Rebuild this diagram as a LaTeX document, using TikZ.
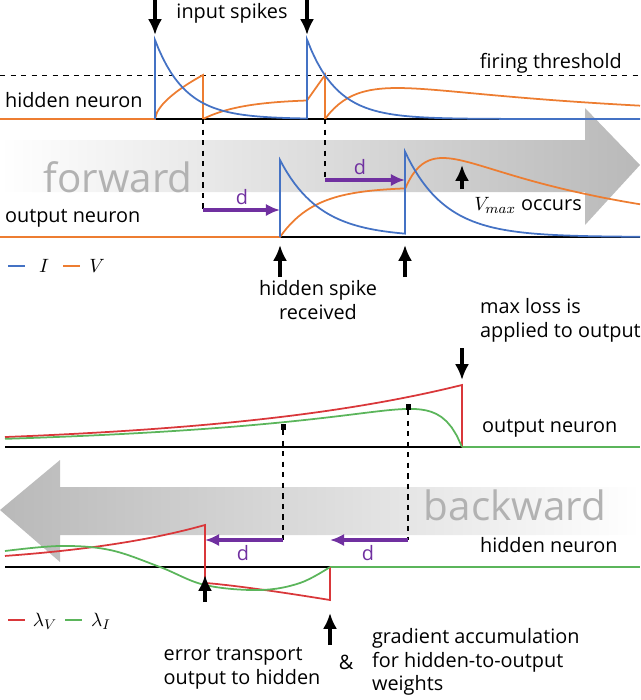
\documentclass[tikz,border=0pt]{standalone}
\usepackage{fontspec}
\setmainfont{Open Sans}
\usetikzlibrary{arrows.meta}
\begin{document}
\definecolor{cI}{RGB}{68,114,196}
\definecolor{cV}{RGB}{237,125,49}
\definecolor{cLV}{RGB}{217,55,58}
\definecolor{cLI}{RGB}{91,181,91}
\definecolor{cD}{RGB}{112,48,160}
\begin{tikzpicture}[x=0.02cm,y=-0.02cm,
  lbl/.style={font=\fontsize{11.3}{13.5}\selectfont,inner sep=1pt},
  big/.style={font=\fontsize{23}{25}\selectfont,text=gray!60},
  ptr/.style={-{Latex[length=9pt,width=8pt]},line width=1.8pt},
  dly/.style={-{Latex[length=8pt,width=7pt]},line width=1.8pt,cD},
  cur/.style={line width=1pt},
  base/.style={line width=0.8pt}]
\useasboundingbox (0,0) rectangle (640,700);
% big arrows
\shade[left color=white,right color=gray!55] (0,140) -- (585,140) -- (585,108) -- (640,165) -- (585,225) -- (585,192) -- (0,192) -- cycle;
\shade[left color=gray!55,right color=white] (640,487) -- (60,487) -- (60,460) -- (0,510) -- (60,562) -- (60,535) -- (640,535) -- cycle;
\node[big] at (118,177) {forward};
\node[big] at (515,505) {backward};
% ---------- forward: hidden neuron
\draw[dashed] (0,75) -- (640,75);
\node[lbl,anchor=east] at (624,63) {firing threshold};
\node[lbl,anchor=west] at (3,100) {hidden neuron};
\draw[base] (155,119) -- (640,119);
\draw[cur,cV] (0,119) -- (155,119) -- plot[domain=155:203,samples=25] (\x,{119-44*((\x-155)/48)^0.6}) -- (203,119)
  -- plot[domain=203:307,samples=30] (\x,{119-20*(1-exp(-(\x-203)/40))}) -- (325,75) -- (325,119)
  -- plot[domain=325:640,samples=70] (\x,{119-47*(exp(-(\x-325)/250)-exp(-(\x-325)/30))});
\draw[cur,cI] (155,119) -- (155,40) -- plot[domain=155:307,samples=40] (\x,{119-79*exp(-(\x-155)/30)})
  -- (307,40) -- plot[domain=307:640,samples=70] (\x,{119-79*exp(-(\x-307)/30)-79*exp(-(\x-155)/30)});
\draw[ptr] (155,0) -- (155,35);
\draw[ptr] (307,0) -- (307,35);
\node[lbl] at (232,13) {input spikes};
\draw[dashed,thick] (203,119) -- (203,210);
\draw[dashed,thick] (325,119) -- (325,180);
\draw[dly] (203,210) -- (280,210);
\draw[dly] (325,180) -- (405,180);
\node[lbl,text=cD] at (242,197) {d};
\node[lbl,text=cD] at (360,167) {d};
% ---------- forward: output neuron
\node[lbl,anchor=west] at (3,218) {output neuron};
\draw[base] (280,237) -- (640,237);
\draw[cur,cV] (0,237) -- (280,237) -- plot[domain=280:405,samples=35] (\x,{237-50*(1-exp(-(\x-280)/35))})
  -- plot[domain=405:640,samples=70] (\x,{237-48*exp(-(\x-405)/200)-58*(exp(-(\x-405)/200)-exp(-(\x-405)/20))});
\draw[cur,cI] (280,237) -- (280,160) -- plot[domain=280:405,samples=35] (\x,{237-77*exp(-(\x-280)/40)})
  -- (405,155) -- plot[domain=405:640,samples=70] (\x,{237-82*exp(-(\x-405)/40)-77*exp(-(\x-280)/40)});
\draw[ptr] (462,189) -- (462,165);
\node[lbl] at (528,205) {$V_{max}$ occurs};
\draw[ptr] (280,277) -- (280,245);
\draw[ptr] (405,277) -- (405,245);
\node[lbl,align=center] at (318,300) {hidden spike\\received};
\draw[cur,cI] (8,266) -- (25,266);
\node[lbl] at (44,266) {$I$};
\draw[cur,cV] (63,266) -- (80,266);
\node[lbl] at (97,266) {$V$};
% ---------- backward: output neuron
\node[lbl,align=left,anchor=west] at (478,320) {max loss is\\applied to output};
\draw[ptr] (462,348) -- (462,380);
\draw[base] (5,447) -- (462,447);
\draw[cur,cLI] (462,447) -- (640,447);
\draw[cur,cLV] plot[domain=5:462,samples=60] (\x,{447-62*exp((\x-462)/250)}) -- (462,447);
\draw[cur,cLI] plot[domain=5:462,samples=90] (\x,{447-38*exp((\x-390)/250)*(1-exp((\x-462)/20))});
\fill (281,424) rectangle (286,430);
\fill (406,404) rectangle (411,410);
\node[lbl,anchor=west] at (480,428) {output neuron};
\draw[dashed,thick] (283,430) -- (283,540);
\draw[dashed,thick] (408,410) -- (408,540);
\draw[dly] (283,540) -- (205,540);
\draw[dly] (408,540) -- (330,540);
\node[lbl,text=cD] at (243,553) {d};
\node[lbl,text=cD] at (368,553) {d};
% ---------- backward: hidden neuron
\node[lbl,anchor=west] at (478,545) {hidden neuron};
\draw[base] (5,567) -- (330,567);
\draw[cur,cLI] (330,567) -- (640,567);
\draw[cur,cLV] plot[domain=5:205,samples=40] (\x,{567-42*exp((\x-205)/150)}) -- (205,583)
  -- plot[domain=205:330,samples=30] (\x,{583+17*((\x-205)/125)^1.2}) -- (330,567);
\draw[cur,cLI] plot[smooth,tension=0.6] coordinates {(5,551) (60,546) (110,550) (160,567) (205,585) (260,590) (300,583) (330,567)};
\draw[ptr] (205,602) -- (205,575);
\draw[ptr] (330,645) -- (330,613);
\draw[cur,cLV] (8,620) -- (25,620);
\node[lbl] at (45,621) {$\lambda_V$};
\draw[cur,cLI] (65,620) -- (82,620);
\node[lbl] at (101,621) {$\lambda_I$};
\node[lbl,align=left] at (242,668) {error transport\\output to hidden};
\node[lbl] at (346,662) {\&};
\node[lbl,align=left,anchor=west] at (370,662) {gradient accumulation\\for hidden-to-output\\weights};
\end{tikzpicture}
\end{document}
